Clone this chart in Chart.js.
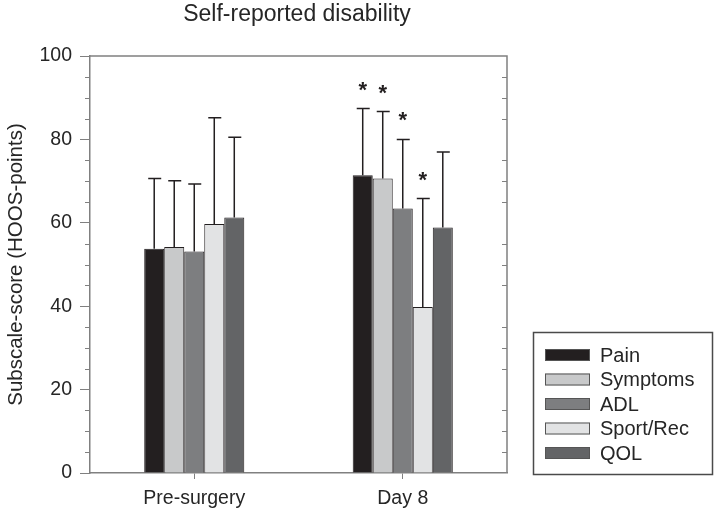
<!DOCTYPE html>
<html>
<head>
<meta charset="utf-8">
<style>
html,body{margin:0;padding:0;background:#fff;}
canvas{display:block;}
</style>
<script src="https://cdn.jsdelivr.net/npm/chart.js@4.4.1/dist/chart.umd.min.js"></script>
</head>
<body>
<canvas id="c" width="717" height="515"></canvas>
<script>
const categories = ['Pre-surgery', 'Day 8'];
const seriesNames = ['Pain', 'Symptoms', 'ADL', 'Sport/Rec', 'QOL'];
const pain = [53.8, 71.4];
const symptoms = [54.2, 70.6];
const adl = [53.1, 63.4];
const sportRec = [59.7, 39.8];
const qol = [61.3, 58.9];
const painErr = [70.6, 87.4];
const symptomsErr = [70.1, 86.7];
const adlErr = [69.3, 80.0];
const sportRecErr = [85.2, 65.8];
const qolErr = [80.5, 77.0];
// significance markers per series, per category
const painStar = [false, true];
const symptomsStar = [false, true];
const adlStar = [false, true];
const sportRecStar = [false, true];
const qolStar = [false, false];
const yTicks = [0, 20, 40, 60, 80, 100];
const colors = ['#231f20', '#c8c9ca', '#7d7e80', '#e2e3e4', '#636466'];

const values = [pain, symptoms, adl, sportRec, qol];
const errs = [painErr, symptomsErr, adlErr, sportRecErr, qolErr];
const stars = [painStar, symptomsStar, adlStar, sportRecStar, qolStar];

const FONT = '"Liberation Sans", Arial, sans-serif';
const TEXT = '#262626';
const AXIS = '#808080';

const extras = {
  id: 'extras',
  afterDatasetsDraw(chart) {
    const ctx = chart.ctx;
    const y = chart.scales.y;
    ctx.save();
    ctx.strokeStyle = '#231f20';
    ctx.lineWidth = 1.5;
    values.forEach((v, di) => {
      const meta = chart.getDatasetMeta(di);
      meta.data.forEach((bar, i) => {
        const top = y.getPixelForValue(errs[di][i]);
        ctx.beginPath();
        ctx.moveTo(bar.x, bar.y);
        ctx.lineTo(bar.x, top);
        ctx.moveTo(bar.x - 6, top);
        ctx.lineTo(bar.x + 7, top);
        ctx.stroke();
        if (stars[di][i]) {
          ctx.fillStyle = '#231f20';
          ctx.font = 'bold 22px ' + FONT;
          ctx.textAlign = 'center';
          ctx.textBaseline = 'alphabetic';
          const cy = y.getPixelForValue(errs[di][i] + 5.5);
          ctx.fillText('*', bar.x, cy + 11);
        }
      });
    });
    ctx.restore();
  },
  afterDraw(chart) {
    const ctx = chart.ctx;
    const a = chart.chartArea;
    const y = chart.scales.y;
    ctx.save();
    // frame top and right
    ctx.strokeStyle = AXIS;
    ctx.lineWidth = 1.5;
    ctx.beginPath();
    ctx.moveTo(a.left, a.top);
    ctx.lineTo(a.right, a.top);
    ctx.lineTo(a.right, a.bottom);
    ctx.stroke();
    // minor ticks
    ctx.lineWidth = 1;
    for (let v = 5; v < 100; v += 5) {
      if (v % 20 === 0) continue;
      const py = Math.round(y.getPixelForValue(v)) + 0.5;
      ctx.beginPath();
      ctx.moveTo(a.left - 5, py);
      ctx.lineTo(a.left, py);
      ctx.moveTo(a.right - 5, py);
      ctx.lineTo(a.right, py);
      ctx.stroke();
    }
    // title
    ctx.fillStyle = TEXT;
    ctx.font = '23px ' + FONT;
    ctx.textAlign = 'center';
    ctx.textBaseline = 'alphabetic';
    ctx.fillText('Self-reported disability', 297, 21);
    // legend
    ctx.strokeStyle = '#4a4a4a';
    ctx.lineWidth = 1.5;
    ctx.strokeRect(533.5, 332.5, 179, 142);
    ctx.font = '20px ' + FONT;
    ctx.textAlign = 'left';
    ctx.textBaseline = 'middle';
    seriesNames.forEach((name, i) => {
      const cy = 355 + i * 24.5;
      ctx.fillStyle = colors[i];
      ctx.fillRect(545, cy - 6, 45, 12);
      ctx.strokeStyle = '#555';
      ctx.lineWidth = 1;
      ctx.strokeRect(545.5, cy - 5.5, 44, 11);
      ctx.fillStyle = TEXT;
      ctx.fillText(name, 600, cy + 1);
    });
    ctx.restore();
  }
};

new Chart(document.getElementById('c'), {
  type: 'bar',
  data: {
    labels: categories,
    datasets: seriesNames.map((n, i) => ({
      label: n,
      data: values[i],
      backgroundColor: colors[i],
      borderColor: '#231f20',
      borderWidth: 1,
      categoryPercentage: 0.48,
      barPercentage: 1.0
    }))
  },
  options: {
    responsive: false,
    animation: false,
    devicePixelRatio: 1,
    layout: { padding: { left: 0, top: 56, right: 210, bottom: 0 } },
    plugins: { legend: { display: false }, tooltip: { enabled: false }, title: { display: false } },
    scales: {
      x: {
        afterFit(s) { s.height = 42; },
        grid: { offset: false, drawOnChartArea: false, tickLength: 6, color: AXIS, lineWidth: 1 },
        border: { color: AXIS, width: 1.5 },
        ticks: { color: TEXT, font: { family: FONT, size: 19.5 }, padding: 8 }
      },
      y: {
        min: 0, max: 100,
        afterFit(s) { s.width = 90; },
        afterBuildTicks(s) { s.ticks = yTicks.map(v => ({ value: v })); },
        grid: { drawOnChartArea: false, tickLength: 10, color: AXIS, lineWidth: 1 },
        border: { color: AXIS, width: 1.5 },
        ticks: { color: TEXT, font: { family: FONT, size: 19.5 }, padding: 8 },
        title: { display: true, text: 'Subscale-score (HOOS-points)', color: TEXT,
                 font: { family: FONT, size: 20.5 }, padding: { top: 4, bottom: 0 } }
      }
    }
  },
  plugins: [extras]
});
</script>
</body>
</html>
